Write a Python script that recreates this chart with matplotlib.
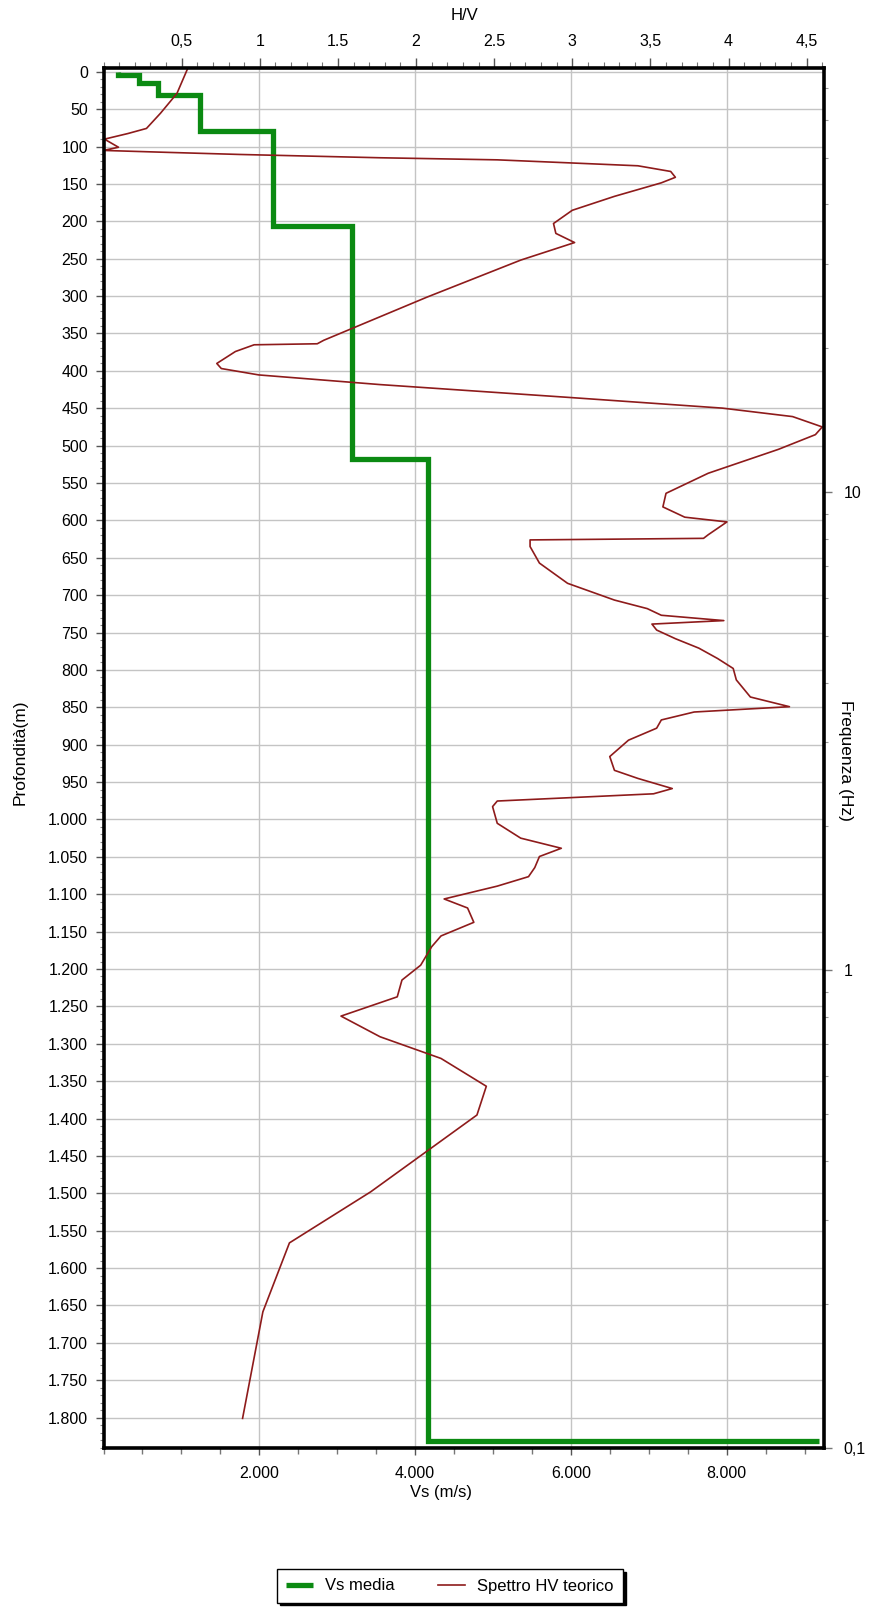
# -*- coding: utf-8 -*-

import numpy as np
import matplotlib.pyplot as plt
from matplotlib.ticker import MultipleLocator, FixedLocator, FuncFormatter, LogLocator, NullFormatter

plt.rcParams['font.family'] = ['Liberation Sans', 'DejaVu Sans']
plt.rcParams['font.size'] = 11.5

# profilo Vs a strati: profondita' di tetto (m) e Vs (m/s)
layer_top = [0, 4, 15.5, 31, 79, 206, 518, 1831]
layer_vs = [180, 460, 700, 1240, 2170, 3190, 4170, 9180]

# spettro H/V teorico: rapporto H/V e frequenza (Hz)
hv = [0.54, 0.47, 0.365, 0.275, 0.156, 0.006, 0.096, 0.0, 0.425, 0.874,
      1.77, 2.52, 2.97, 3.42, 3.63, 3.66, 3.57, 3.27, 3.0, 2.88,
      2.895, 3.015, 2.67, 2.07, 1.41, 1.368, 0.964, 0.844, 0.725, 0.754,
      0.994, 1.77, 2.97, 3.96, 4.41, 4.60, 4.556, 4.32, 3.87, 3.6,
      3.58, 3.72, 3.99, 3.87, 3.84, 2.73, 2.73, 2.79, 2.97, 3.27,
      3.48, 3.57, 3.97, 3.51, 3.54, 3.66, 3.81, 3.93, 4.03, 4.05,
      4.14, 4.39, 3.78, 3.57, 3.54, 3.36, 3.24, 3.27, 3.42, 3.64,
      3.52, 2.52, 2.49, 2.52, 2.67, 2.93, 2.79, 2.76, 2.72, 2.52,
      2.18, 2.33, 2.37, 2.16, 2.10, 2.03, 1.91, 1.88, 1.52, 1.77,
      2.16, 2.45, 2.39, 1.71, 1.19, 1.02, 0.89]
freq = [77.2, 68.3, 62.1, 57.7, 56.3, 54.8, 52.7, 51.9, 51.4, 50.9,
        50.1, 49.6, 48.9, 48.2, 46.9, 45.6, 44.4, 41.6, 38.9, 36.5,
        34.8, 33.3, 30.6, 25.6, 20.8, 20.45, 20.35, 19.7, 18.6, 18.15,
        17.6, 16.8, 15.8, 15.0, 14.4, 13.7, 13.2, 12.3, 10.96, 9.95,
        9.32, 8.87, 8.67, 8.15, 8.01, 7.95, 7.70, 7.11, 6.45, 5.95,
        5.71, 5.53, 5.39, 5.30, 5.15, 4.94, 4.72, 4.49, 4.28, 4.05,
        3.73, 3.56, 3.47, 3.34, 3.21, 3.03, 2.80, 2.62, 2.52, 2.40,
        2.34, 2.26, 2.20, 2.03, 1.89, 1.80, 1.73, 1.64, 1.57, 1.50,
        1.41, 1.35, 1.26, 1.18, 1.12, 1.025, 0.954, 0.880, 0.802, 0.726,
        0.654, 0.572, 0.498, 0.344, 0.269, 0.193, 0.1155]

top_labels = ['0,5', '1', '1.5', '2', '2.5', '3', '3,5', '4', '4,5']
freq_labels = {0.1: '0,1', 1: '1', 10: '10'}

depth_max = 1841
vs_max = 9253
hv_max = 4.613
f_min, f_max = 0.1, 77.2

# scaletta a gradini dal profilo a strati
step_x, step_y = [], []
for i in range(len(layer_vs) - 1):
    step_x += [layer_vs[i], layer_vs[i]]
    step_y += [layer_top[i], layer_top[i + 1]]
step_x.append(layer_vs[-1])
step_y.append(layer_top[-1])


def thousands(v, pos):
    return '{:,}'.format(int(v)).replace(',', '.')


fig = plt.figure(figsize=(8.92, 16.09), dpi=100)
rect = [103.5 / 892, 1 - 1448.3 / 1609, (824.3 - 103.5) / 892, (1448.3 - 68) / 1609]

ax = fig.add_axes(rect)
ax.set_xlim(0, vs_max)
ax.set_ylim(depth_max, -5)
ax.xaxis.set_major_locator(FixedLocator([2000, 4000, 6000, 8000]))
ax.xaxis.set_minor_locator(MultipleLocator(500))
ax.yaxis.set_major_locator(MultipleLocator(50))
ax.yaxis.set_minor_locator(MultipleLocator(10))
ax.yaxis.set_major_formatter(FuncFormatter(thousands))
ax.xaxis.set_major_formatter(FuncFormatter(thousands))
ax.grid(True, which='major', color='#c4c4c4', lw=1.0)
ax.set_axisbelow(True)
ax.tick_params(axis='x', which='major', direction='out', length=5, width=1, color='#555555', pad=8)
ax.tick_params(axis='x', which='minor', direction='out', length=4, width=1, color='#777777')
ax.tick_params(axis='y', which='major', direction='out', length=6, width=1, color='#555555', pad=5)
ax.tick_params(axis='y', which='minor', direction='out', length=3, width=0.8, color='#888888')
for s in ax.spines.values():
    s.set_visible(False)

l1, = ax.plot(step_x, step_y, color='#0b8a12', lw=3.8, solid_joinstyle='miter',
              solid_capstyle='butt', label='Vs media')

ax2 = fig.add_axes(rect, facecolor='none')
ax2.set_xlim(0, hv_max)
ax2.set_yscale('log')
ax2.set_ylim(f_min, f_max)
ax2.xaxis.tick_top()
ax2.yaxis.tick_right()
ax2.xaxis.set_major_locator(FixedLocator(np.arange(0.5, 4.6, 0.5)))
ax2.xaxis.set_major_formatter(FuncFormatter(lambda v, p: top_labels[p] if p is not None and p < len(top_labels) else ''))
ax2.xaxis.set_minor_locator(MultipleLocator(0.1))
ax2.yaxis.set_major_locator(FixedLocator([0.1, 1, 10]))
ax2.yaxis.set_major_formatter(FuncFormatter(lambda v, p: freq_labels.get(round(v, 1) if v < 1 else int(round(v)), '')))
ax2.yaxis.set_minor_locator(LogLocator(base=10, subs=np.arange(2, 10)))
ax2.yaxis.set_minor_formatter(NullFormatter())
ax2.tick_params(axis='x', which='major', direction='out', length=7, width=1, color='#555555', pad=7)
ax2.tick_params(axis='x', which='minor', direction='out', length=4, width=0.8, color='#777777')
ax2.tick_params(axis='y', which='major', direction='out', length=6, width=1, color='#777777', pad=8)
ax2.tick_params(axis='y', which='minor', direction='out', length=3, width=0.8, color='#999999')
for s in ax2.spines.values():
    s.set_color('black')
    s.set_linewidth(2.6)

l2, = ax2.plot(hv, freq, color='#8e1b1b', lw=1.2, label='Spettro HV teorico')

fig.text(465 / 892, 1 - 15 / 1609, 'H/V', ha='center', va='center', fontsize=12)
fig.text(441 / 892, 1 - 1492 / 1609, 'Vs (m/s)', ha='center', va='center', fontsize=12)
fig.text(20 / 892, 1 - 752 / 1609, 'Profondità(m)', rotation=90, ha='center', va='center', fontsize=12.5)
fig.text(846 / 892, 1 - 760 / 1609, 'Frequenza (Hz)', rotation=270, ha='center', va='center', fontsize=12.5)

leg = fig.legend([l1, l2], ['Vs media', 'Spettro HV teorico'], loc='center',
                 bbox_to_anchor=(450 / 892, 1 - 1586 / 1609), ncol=2, frameon=True,
                 fancybox=False, shadow={'color': 'black', 'alpha': 1}, edgecolor='black',
                 fontsize=12, handlelength=1.6, columnspacing=2.6, borderpad=0.55,
                 handletextpad=0.75, borderaxespad=0)
leg.get_frame().set_linewidth(1.0)

fig.savefig('out.png', dpi=100)
